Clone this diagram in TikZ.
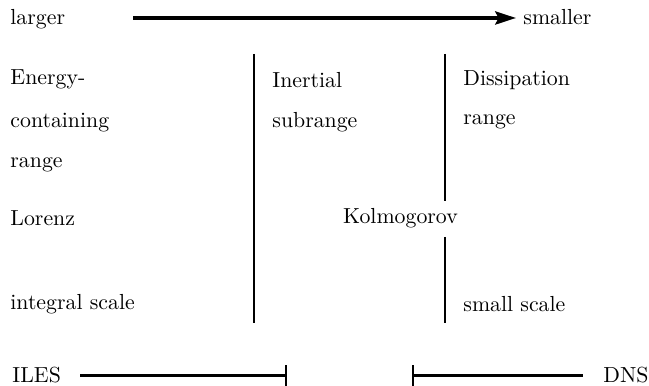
\documentclass[tikz,border=0pt]{standalone}
\usetikzlibrary{arrows.meta}
\begin{document}
\begin{tikzpicture}[x=0.4587pt,y=-0.4587pt,
  lbl/.style={anchor=base west,inner sep=0pt,font=\normalsize},
  divider/.style={line width=1.1pt},
  rangebar/.style={line width=1.05pt},
  scalearrow/.style={line width=1.6pt,-{Stealth[length=9.5pt,width=6pt,inset=1.5pt]}}]
\useasboundingbox (0,0) rectangle (649,386);
% top arrow
\node[lbl] (larger) at (10,24.5) {larger};
\node[lbl] (smaller) at (523,24.5) {smaller};
\coordinate (arrS) at (133,18);
\coordinate (arrE) at (516,18);
\draw[scalearrow] (arrS) -- (arrE);
% left column
\node[lbl] (energy) at (10,85) {Energy-};
\node[lbl] (containing) at (10,128) {containing};
\node[lbl] (rangeA) at (10,168) {range};
\node[lbl] (lorenz) at (10,226) {Lorenz};
\node[lbl] (integral) at (10,310) {integral scale};
% middle column
\node[lbl] (inertial) at (272,88) {Inertial};
\node[lbl] (subrange) at (272,128) {subrange};
% right column
\node[lbl] (dissipation) at (463,86) {Dissipation};
\node[lbl] (rangeB) at (463,125) {range};
\node[lbl] (small) at (463,312) {small scale};
% Kolmogorov
\node[anchor=base,inner sep=3.6pt] (kolm) at (400.5,224) {Kolmogorov};
% dividers
\coordinate (lTop) at (254,54);
\coordinate (lBot) at (254,323);
\coordinate (rTop) at (445,54);
\coordinate (rBot) at (445,323);
\draw[divider] (lTop) -- (lBot);
\draw[divider] (rTop) -- (rTop |- kolm.north);
\draw[divider] (rBot |- kolm.south) -- (rBot);
% bottom
\node[lbl] (iles) at (12,383) {ILES};
\node[lbl] (dns) at (603,383) {DNS};
\coordinate (ilesS) at (80,375.5);
\coordinate (ilesE) at (287,375.5);
\coordinate (dnsS) at (412,375.5);
\coordinate (dnsE) at (583,375.5);
\draw[rangebar,-{Bar[width=9.5pt,line width=1.1pt]}] (ilesS) -- (ilesE);
\draw[rangebar,{Bar[width=9.5pt,line width=1.1pt]}-] (dnsS) -- (dnsE);
\end{tikzpicture}
\end{document}
